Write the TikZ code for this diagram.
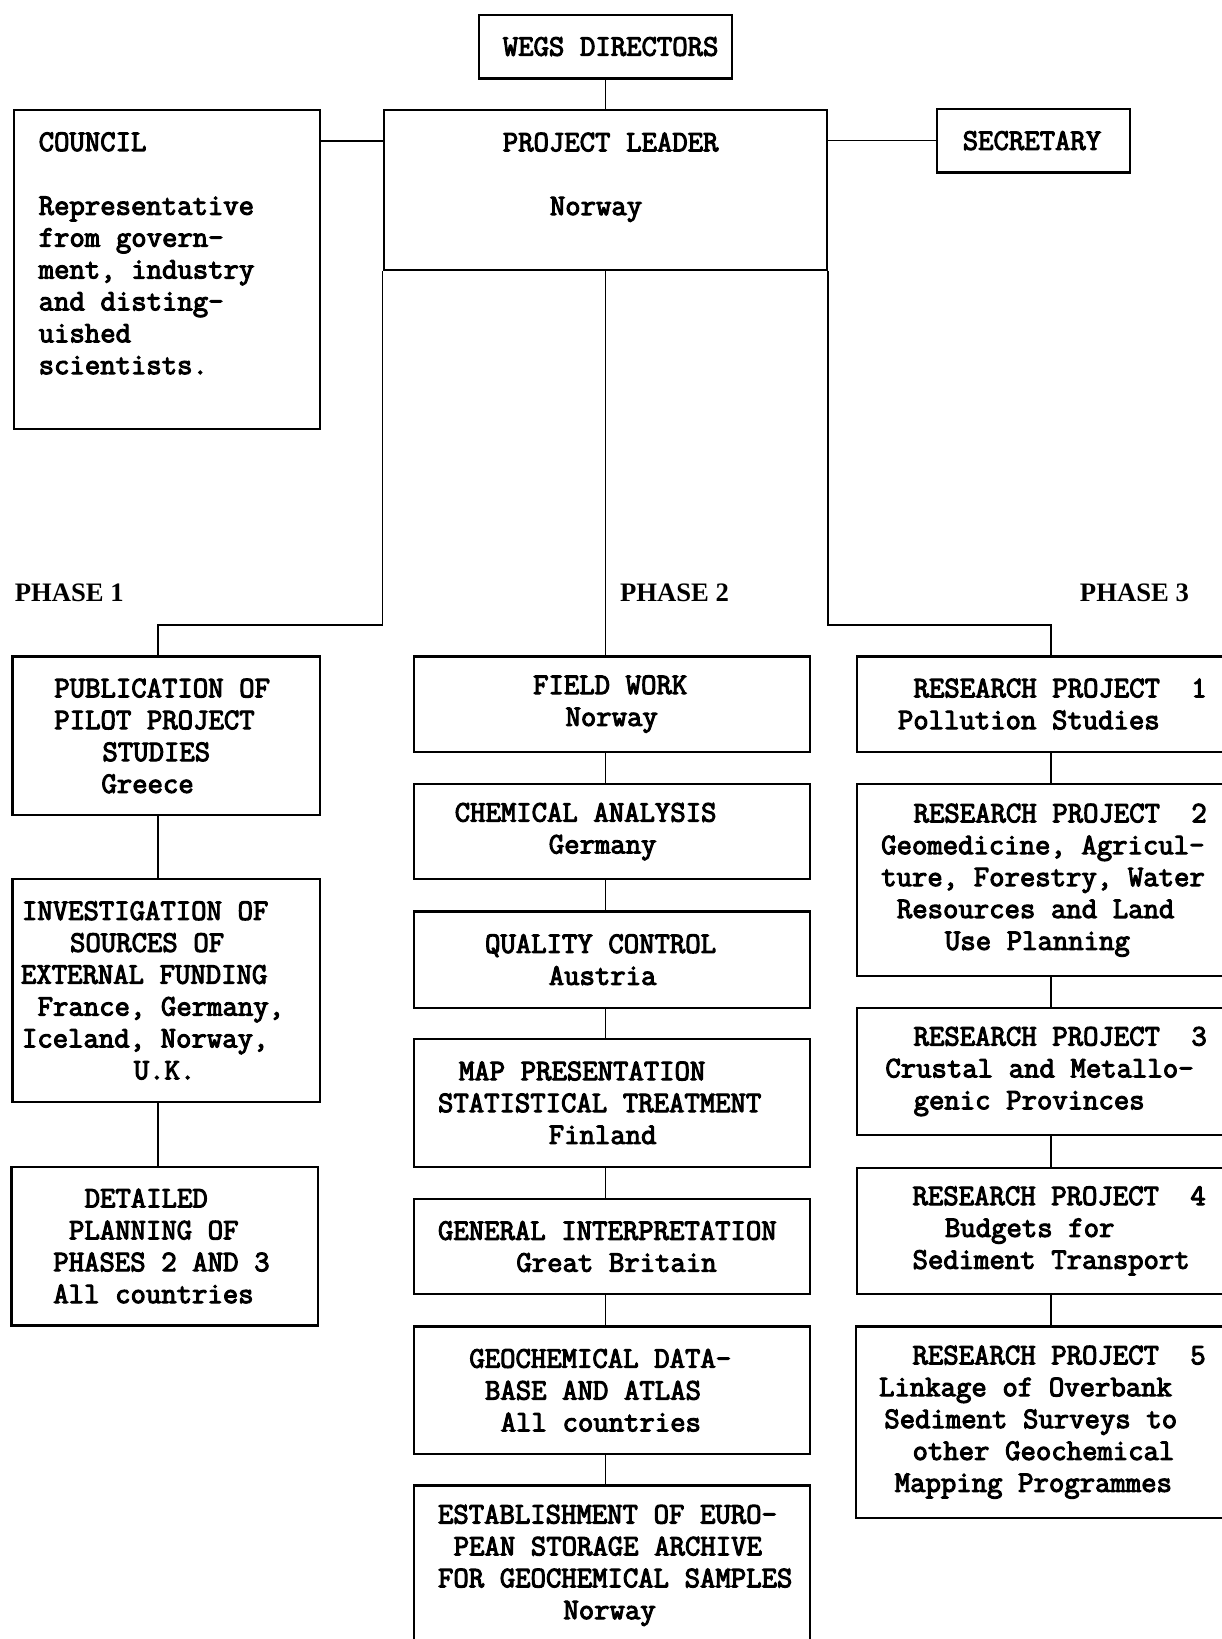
\documentclass[tikz,border=0pt]{standalone}
\usepackage{fontspec}
\newfontfamily\monofam{Latin Modern Mono}[FakeBold=3.5]
\newfontfamily\seriffam{Liberation Serif}
\newcommand\boxfont{\monofam\fontsize{28.57}{30.5}\selectfont\frenchspacing}
\newcommand\phasefont{\seriffam\bfseries\fontsize{25.5}{30}\selectfont}
\newcommand\txl[2]{\hspace*{#1pt}{\spaceskip=15pt\relax\xspaceskip=15pt\relax#2}}
\begin{document}
\begin{tikzpicture}[x=1pt,y=-1pt,
  box/.style={draw,line width=2.1pt,rectangle,anchor=north west,inner sep=0pt,align=left,font=\boxfont},
  conn/.style={line width=1.4pt},
  phase/.style={anchor=base west,inner sep=0pt,font=\phasefont}]
\fill[white] (0,0) rectangle (1169,1568);
\useasboundingbox (0,0) rectangle (1169,1568);

% top level
\node[box,text width=242pt,minimum height=61pt] (wegs) at (457,13) {\txl{23}{WEGS DIRECTORS}};
\node[box,text width=293pt,minimum height=305pt] (council) at (12,104)
  {\txl{24}{COUNCIL}\\\mbox{}\\\txl{24}{Representative}\\\txl{24}{from govern-}\\\txl{24}{ment, industry}\\\txl{24}{and disting-}\\\txl{24}{uished}\\\txl{24}{scientists.}\\\mbox{}};
\node[box,text width=424pt,minimum height=153pt] (pl) at (366,104)
  {\txl{114}{PROJECT LEADER}\\\mbox{}\\\txl{159}{Norway}\\\mbox{}};
\node[box,text width=185pt,minimum height=61pt] (sec) at (895,103) {\txl{25}{SECRETARY}};

% phase labels
\node[phase] (ph1) at (14,575) {PHASE 1};
\node[phase] (ph2) at (593,575) {PHASE 2};
\node[phase] (ph3) at (1033,575) {PHASE 3};

% phase 1
\node[box,text width=294pt,minimum height=152pt] (pub) at (11,627)
  {\txl{40}{PUBLICATION OF}\\\txl{40}{PILOT PROJECT}\\\txl{86}{STUDIES}\\\txl{85}{Greece}};
\node[box,text width=294pt,minimum height=213pt] (inv) at (11,840)
  {\txl{9}{INVESTIGATION OF}\\\txl{55}{SOURCES OF}\\\txl{8}{EXTERNAL FUNDING}\\\txl{24}{France, Germany,}\\\txl{9}{Iceland, Norway,}\\\txl{116}{U.K.}};
\node[box,text width=293pt,minimum height=152pt] (det) at (10,1115)
  {\txl{70}{DETAILED}\\\txl{55}{PLANNING OF}\\\txl{40}{PHASES 2 AND 3}\\\txl{40}{All countries}};

% phase 2
\node[box,text width=379pt,minimum height=91pt] (field) at (395,627)
  {\txl{114}{FIELD WORK}\\\txl{145}{Norway}};
\node[box,text width=379pt,minimum height=91pt] (chem) at (395,749)
  {\txl{39}{CHEMICAL ANALYSIS}\\\txl{129}{Germany}};
\node[box,text width=379pt,minimum height=92pt] (qual) at (395,871)
  {\txl{68}{QUALITY CONTROL}\\\txl{129}{Austria}};
\node[box,text width=379pt,minimum height=122pt] (map) at (395,993)
  {\txl{43}{MAP PRESENTATION}\\\txl{23}{STATISTICAL TREATMENT}\\\txl{129}{Finland}};
\node[box,text width=379pt,minimum height=91pt] (gen) at (395,1146)
  {\txl{23}{GENERAL INTERPRETATION}\\\txl{98}{Great Britain}};
\node[box,text width=379pt,minimum height=122pt] (geo) at (395,1268)
  {\txl{53}{GEOCHEMICAL DATA-}\\\txl{68}{BASE AND ATLAS}\\\txl{83}{All countries}};
\node[box,text width=379pt,minimum height=153pt] (est) at (395,1420)
  {\txl{23}{ESTABLISHMENT OF EURO-}\\\txl{38}{PEAN STORAGE ARCHIVE}\\\txl{23}{FOR GEOCHEMICAL SAMPLES}\\\txl{143}{Norway}};

% phase 3
\node[box,text width=371pt,minimum height=91pt] (rp1) at (819,627)
  {\txl{54}{RESEARCH PROJECT~~1}\\\txl{39}{Pollution Studies}};
\node[box,text width=371pt,minimum height=184pt] (rp2) at (819,749)
  {\txl{54}{RESEARCH PROJECT~~2}\\\txl{23}{Geomedicine, Agricul-}\\\txl{23}{ture, Forestry, Water}\\\txl{38}{Resources and Land}\\\txl{84}{Use Planning}};
\node[box,text width=371pt,minimum height=122pt] (rp3) at (819,963)
  {\txl{54}{RESEARCH PROJECT~~3}\\\txl{27}{Crustal and Metallo-}\\\txl{54}{genic Provinces}};
\node[box,text width=371pt,minimum height=121pt] (rp4) at (819,1116)
  {\txl{53}{RESEARCH PROJECT~~4}\\\txl{84}{Budgets for}\\\txl{53}{Sediment Transport}};
\node[box,text width=372pt,minimum height=183pt] (rp5) at (818,1268)
  {\txl{54}{RESEARCH PROJECT~~5}\\\txl{22}{Linkage of Overbank}\\\txl{27}{Sediment Surveys to}\\\txl{54}{other Geochemical}\\\txl{37}{Mapping Programmes}};

% connectors
\draw[conn] (wegs.south) -- (pl.north);
\draw[conn] ([yshift=-31pt]council.north east) -- ([yshift=-31pt]pl.north west);
\draw[conn] (sec.west -| pl.east) -- (sec.west);
\draw[conn] (pl.south west) -- ++(0,339) -| ([xshift=-8pt]pub.north);
\draw[conn] (pl.south) -- (pl.south |- field.north);
\draw[conn] (pl.south east) -- ++(0,339) -| (rp1.north);
\foreach \a/\b in {pub/inv,inv/det}
  \draw[conn] ([xshift=-8pt]\a.south) -- ([xshift=-8pt]\a.south |- \b.north);
\foreach \a/\b in {field/chem,chem/qual,qual/map,map/gen,gen/geo,geo/est}
  \draw[conn] (\a.south -| pl.south) -- (\b.north -| pl.south);
\foreach \a/\b in {rp1/rp2,rp2/rp3,rp3/rp4,rp4/rp5}
  \draw[conn] (\a.south) -- (\a.south |- \b.north);
\end{tikzpicture}
\end{document}
